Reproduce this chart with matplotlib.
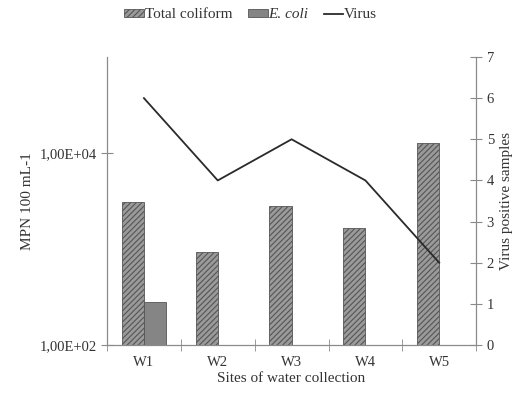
import numpy as np
import matplotlib.pyplot as plt
from matplotlib.patches import Patch
from matplotlib.lines import Line2D
from matplotlib.ticker import FixedLocator, NullLocator

plt.rcParams['font.family'] = ['Liberation Serif', 'DejaVu Serif']
plt.rcParams['hatch.linewidth'] = 0.8

# MPN per 100 mL and number of virus positive samples per site
sites = ["W1", "W2", "W3", "W4", "W5"]
total_coliform = [3100, 930, 2800, 1650, 12600]
e_coli = [280, 100, 100, 100, 100]
virus = [6, 4, 5, 4, 2]

x = np.arange(len(sites))
w = 0.3
axis_col = "#8a8a8a"
text_col = "#333333"

fig = plt.figure(figsize=(5.17, 3.93), dpi=100)
ax = fig.add_axes([0.207, 0.122, 0.714, 0.733])

ax.bar(x - w / 2, np.array(total_coliform) - 100, w, bottom=100,
       color="#9a9a9a", edgecolor="#555555", hatch="//////", linewidth=0.6)
ax.bar(x + w / 2, np.array(e_coli) - 100, w, bottom=100,
       color="#858585", edgecolor="#555555", linewidth=0.6)

ax.set_yscale("log")
ax.set_ylim(100, 100000)
ax.set_xlim(-0.5, 4.5)
ax.yaxis.set_major_locator(FixedLocator([100, 10000]))
ax.yaxis.set_minor_locator(NullLocator())
ax.set_yticklabels(["1,00E+02", "1,00E+04"])
ax.set_xticks(x)
ax.set_xticklabels(sites)
ax.set_xticks(np.arange(-0.5, 5, 1), minor=True)
ax.tick_params(axis="x", which="major", length=0, pad=8)
ax.tick_params(axis="x", which="minor", direction="inout", length=8, color=axis_col)
ax.tick_params(axis="y", direction="inout", length=8, color=axis_col)
ax.tick_params(labelsize=10.5, labelcolor=text_col)
ax.set_xlabel("Sites of water collection", fontsize=11, color=text_col, labelpad=2)
ax.set_ylabel("MPN 100 mL-1", fontsize=11, color=text_col, labelpad=4)
ax.spines["top"].set_visible(False)
for s in ["left", "right", "bottom"]:
    ax.spines[s].set_color(axis_col)

ax2 = ax.twinx()
ax2.plot(x, virus, color="#2a2a2a", linewidth=1.3)
ax2.set_ylim(0, 7)
ax2.set_yticks(range(0, 8))
ax2.tick_params(axis="y", direction="inout", length=8, color=axis_col,
                labelsize=10.5, labelcolor=text_col)
ax2.set_ylabel("Virus positive samples", fontsize=11, color=text_col, labelpad=4)
ax2.spines["top"].set_visible(False)
for s in ["left", "right", "bottom"]:
    ax2.spines[s].set_color(axis_col)

handles = [
    Patch(facecolor="#9a9a9a", edgecolor="#555555", hatch="//////", linewidth=0.6),
    Patch(facecolor="#858585", edgecolor="#555555", linewidth=0.6),
    Line2D([0], [0], color="#2a2a2a", linewidth=1.3),
]
leg = fig.legend(handles, ["Total coliform", "E. coli", "Virus"], loc="center",
                 bbox_to_anchor=(0.485, 0.962), ncol=3, frameon=False, fontsize=11,
                 handlelength=1.3, handleheight=0.45, handletextpad=0.05,
                 columnspacing=1.0)
for t in leg.get_texts():
    t.set_color(text_col)
leg.get_texts()[1].set_fontstyle("italic")

fig.savefig("out.png", dpi=100)
